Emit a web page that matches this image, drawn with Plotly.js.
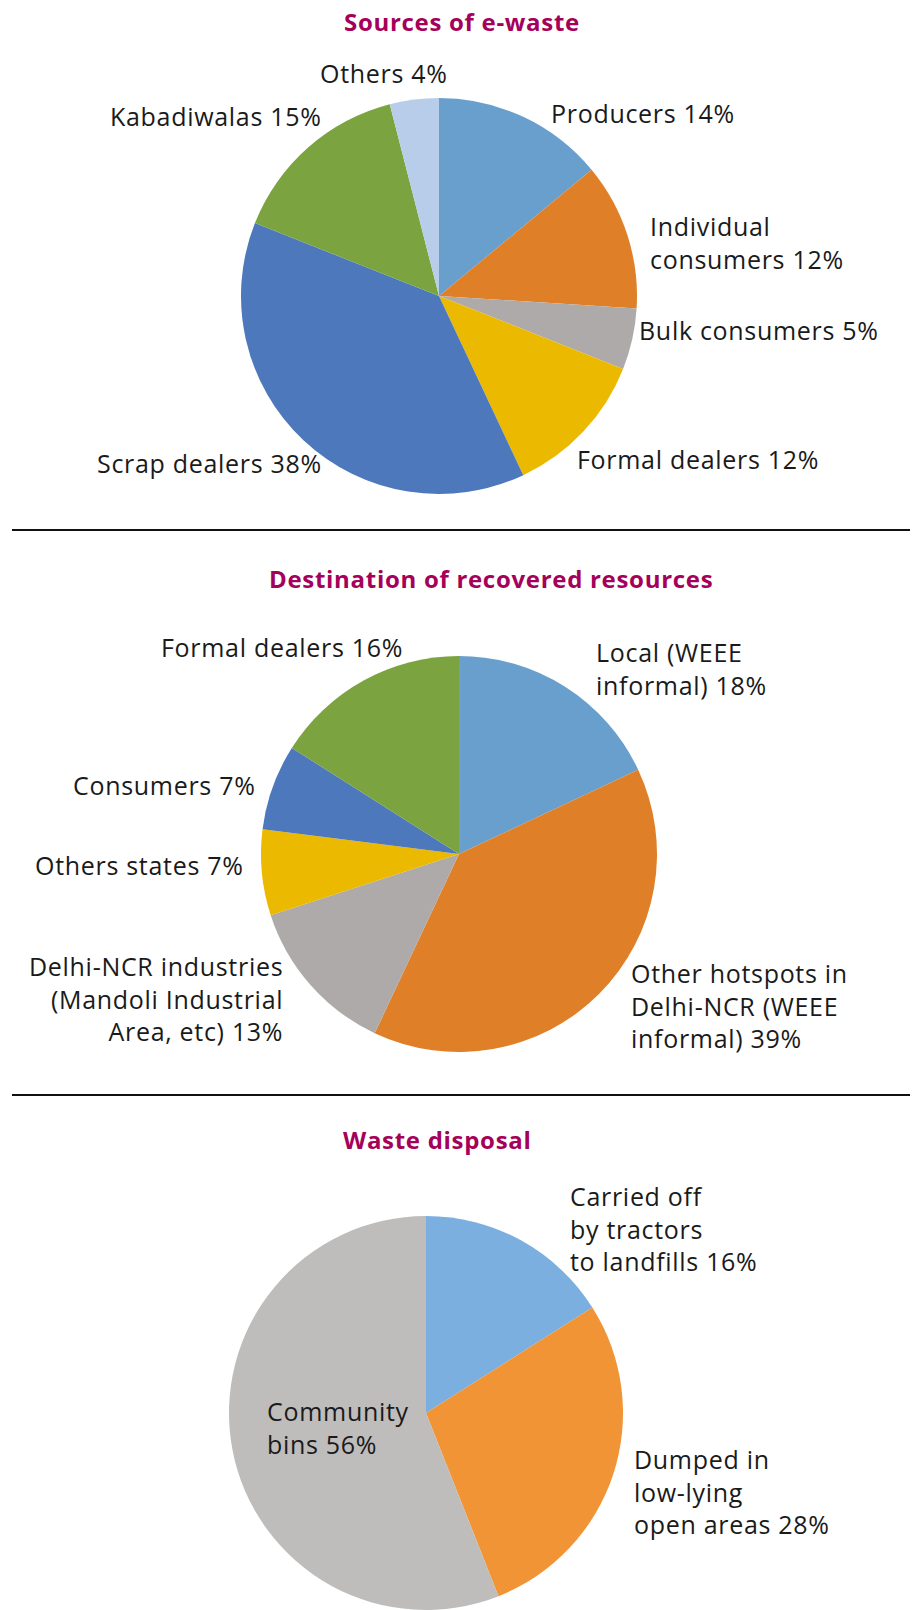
<!DOCTYPE html>
<html>
<head>
<meta charset="utf-8">
<script src="https://cdn.plot.ly/plotly-3.0.1.min.js"></script>
<style>
  html, body { margin: 0; padding: 0; background: #fff; }
  #chart { width: 914px; height: 1610px; }
  /* the original face is a wide humanist sans, open the spacing a bit */
  text.annotation-text { letter-spacing: 0.7px; }
</style>
</head>
<body>
<div id="chart"></div>
<script>
// data (percent)
var sourceLabels = ["Producers", "Individual<br>consumers", "Bulk consumers", "Formal dealers", "Scrap dealers", "Kabadiwalas", "Others"];
var sourceValues = [14, 12, 5, 12, 38, 15, 4];

var destLabels = ["Local (WEEE<br>informal)", "Other hotspots in<br>Delhi-NCR (WEEE<br>informal)", "Delhi-NCR industries<br>(Mandoli Industrial<br>Area, etc)", "Others states", "Consumers", "Formal dealers"];
var destValues = [18, 39, 13, 7, 7, 16];

var disposalLabels = ["Carried off<br>by tractors<br>to landfills", "Dumped in<br>low-lying<br>open areas", "Community<br>bins"];
var disposalValues = [16, 28, 56];

var chartTitles = ["Sources of e-waste", "Destination of recovered resources", "Waste disposal"];

// colours
var sourceColors = ["#699FCD", "#DF8029", "#ADAAA9", "#EBB900", "#4D78BB", "#7BA440", "#B8CDE9"];
var destColors = ["#699FCD", "#DF8029", "#ADAAA9", "#EBB900", "#4D78BB", "#7BA440"];
var disposalColors = ["#7AAFDF", "#F09436", "#BEBDBC"];

var W = 914, H = 1610;
var LINE_H = 28.7; // line pitch of the wrapped labels in the original
var labelFont = { family: "Open Sans, sans-serif", size: 25, color: "#1a1a1a" };
var titleFont = { family: "Open Sans, sans-serif", size: 24, color: "#A5005A", weight: 700 };

// pie placement in pixels: centre x, centre y, radius
var pies = [
  { cx: 439, cy: 296, r: 198 },
  { cx: 459, cy: 854, r: 198 },
  { cx: 426, cy: 1413, r: 197 }
];
var titlePos = [[462, 21], [491, 578], [437, 1139]];

// label anchor: x, y of first line (pixels), side
var sourcePos = [[549, 113, "left"], [648, 228, "left"], [637, 330, "left"], [575, 459, "left"], [324, 463, "right"], [324, 116, "right"], [384, 73, "center"]];
var destPos = [[594, 654, "left"], [629, 977, "left"], [285, 970, "right"], [246, 865, "right"], [258, 785, "right"], [405, 647, "right"]];
var disposalPos = [[568, 1200, "left"], [632, 1463, "left"], [265, 1413, "left"]];

function px(x) { return x / W; }
function py(y) { return 1 - y / H; }

function pieTrace(labels, values, colors, p) {
  return {
    type: "pie",
    labels: labels,
    values: values,
    sort: false,
    direction: "clockwise",
    rotation: 0,
    textinfo: "none",
    hoverinfo: "skip",
    showlegend: false,
    marker: { colors: colors, line: { width: 0 } },
    domain: {
      x: [px(p.cx - p.r), px(p.cx + p.r)],
      y: [py(p.cy + p.r), py(p.cy - p.r)]
    }
  };
}

var annotations = [];
function addLabels(labels, values, pos) {
  labels.forEach(function (lab, i) {
    var text = lab + " " + values[i] + "%";
    var n = text.split("<br>").length;
    annotations.push({
      xref: "paper", yref: "paper",
      x: px(pos[i][0]), y: py(pos[i][1] + (n - 1) * LINE_H / 2),
      xanchor: pos[i][2], yanchor: "middle",
      align: pos[i][2],
      text: text, showarrow: false,
      font: labelFont
    });
  });
}
addLabels(sourceLabels, sourceValues, sourcePos);
addLabels(destLabels, destValues, destPos);
addLabels(disposalLabels, disposalValues, disposalPos);

chartTitles.forEach(function (t, i) {
  annotations.push({
    xref: "paper", yref: "paper",
    x: px(titlePos[i][0]), y: py(titlePos[i][1]),
    xanchor: "center", yanchor: "middle",
    text: "<b>" + t + "</b>", showarrow: false,
    font: titleFont
  });
});

var shapes = [530, 1095].map(function (y) {
  return {
    type: "line", xref: "paper", yref: "paper",
    x0: px(12), x1: px(910), y0: py(y), y1: py(y),
    line: { color: "#111", width: 2 }
  };
});

var data = [
  pieTrace(sourceLabels, sourceValues, sourceColors, pies[0]),
  pieTrace(destLabels, destValues, destColors, pies[1]),
  pieTrace(disposalLabels, disposalValues, disposalColors, pies[2])
];

var layout = {
  width: W,
  height: H,
  margin: { l: 0, r: 0, t: 0, b: 0 },
  paper_bgcolor: "#fff",
  annotations: annotations,
  shapes: shapes
};

Plotly.newPlot("chart", data, layout, { displayModeBar: false, staticPlot: true });
</script>
</body>
</html>
